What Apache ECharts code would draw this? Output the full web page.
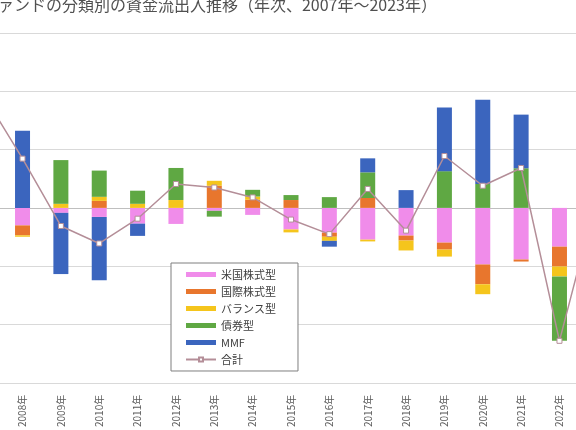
<!DOCTYPE html>
<html>
<head>
<meta charset="utf-8">
<script src="https://cdn.jsdelivr.net/npm/echarts@6/dist/echarts.min.js"></script>
<style>
html,body{margin:0;padding:0;background:#fff;overflow:hidden;width:576px;height:430px;}
#c{width:652px;height:430px;margin-left:-35px;}
</style>
</head>
<body>
<div id="c"></div>
<script>
// Categories (2007 and 2023 lie just outside the cropped view)
const years = ['2007年','2008年','2009年','2010年','2011年','2012年','2013年','2014年','2015年','2016年','2017年','2018年','2019年','2020年','2021年','2022年','2023年'];
// Series values (trillion yen)
const usEquity   = [0, -0.60, -0.17, -0.31, -0.54, -0.55, -0.10, -0.24, -0.74, -0.85, -1.09, -0.95, -1.19, -1.94, -1.77, -1.33, -1.00];
const intlEquity = [2.60, -0.34, 0, 0.24, 0, 0, 0.76, 0.28, 0.27, -0.14, 0.34, -0.17, -0.24, -0.68, -0.07, -0.68, 0.30];
const balanced   = [0.60, -0.05, 0.14, 0.14, 0.14, 0.27, 0.17, 0.11, -0.10, -0.14, -0.06, -0.34, -0.24, -0.34, 0, -0.34, 0.20];
const bond       = [0.40, 0, 1.50, 0.90, 0.45, 1.10, -0.20, 0.23, 0.17, 0.37, 0.88, 0, 1.26, 0.82, 1.36, -2.21, 0.80];
const mmf        = [0.24, 2.65, -2.10, -2.17, -0.42, 0, 0, 0, 0, -0.20, 0.48, 0.61, 2.18, 2.89, 1.84, 0, 0.20];
const total      = [3.84, 1.69, -0.62, -1.22, -0.37, 0.82, 0.70, 0.36, -0.40, -0.90, 0.65, -0.78, 1.78, 0.76, 1.37, -4.56, 0.50];
const names = ['米国株式型','国際株式型','バランス型','債券型','MMF','合計'];
const colors = ['#F08CEA','#E8762D','#F5C51C','#5FA843','#3B65BE','#B48E98'];

const font = '"Noto Sans CJK JP","Noto Sans",sans-serif';
const chart = echarts.init(document.getElementById('c'), null, {renderer:'canvas'});
const barData = [usEquity, intlEquity, balanced, bond, mmf];
const series = barData.map((d,i)=>({
  name: names[i], type:'bar', stack:'all', data:d, barWidth:15,
  itemStyle:{color:colors[i]}, emphasis:{disabled:true}
}));
series.push({
  name:names[5], type:'line', data: total, z:10,
  symbol:'rect', symbolSize:5, showAllSymbol:true,
  lineStyle:{color:colors[5], width:1.5},
  itemStyle:{color:'#ffffff', borderColor:colors[5], borderWidth:1}
});
chart.setOption({
  animation:false,
  backgroundColor:'#ffffff',
  title:{
    text:'【図表】ファンドの分類別の資金流出入推移（年次、2007年～2023年）',
    right:180, top:-3, padding:0,
    textStyle:{fontFamily:font, fontSize:16, fontWeight:'normal', color:'#505050'}
  },
  legend:{
    orient:'vertical', left:206, top:263,
    backgroundColor:'#ffffff', borderColor:'#7f7f7f', borderWidth:1,
    padding:[6,22,6,14], itemGap:6, itemWidth:30, itemHeight:5,
    textStyle:{fontFamily:font, fontSize:11, color:'#404040'},
    data: names.map((n,i)=> i<5 ? {name:n, icon:'rect'} : {name:n})
  },
  grid:{left:0, right:0, top:33, bottom:43, containLabel:false},
  xAxis:{
    type:'category', data:years,
    axisLine:{lineStyle:{color:'#bfbfbf'}},
    axisTick:{show:false},
    axisLabel:{rotate:90, margin:12, fontFamily:font, fontSize:10, color:'#595959', interval:0}
  },
  yAxis:{
    type:'value', min:-6, max:6, interval:2,
    axisLabel:{show:false}, axisLine:{show:false}, axisTick:{show:false},
    splitLine:{lineStyle:{color:'#d9d9d9'}}
  },
  series: series
});
</script>
</body>
</html>
